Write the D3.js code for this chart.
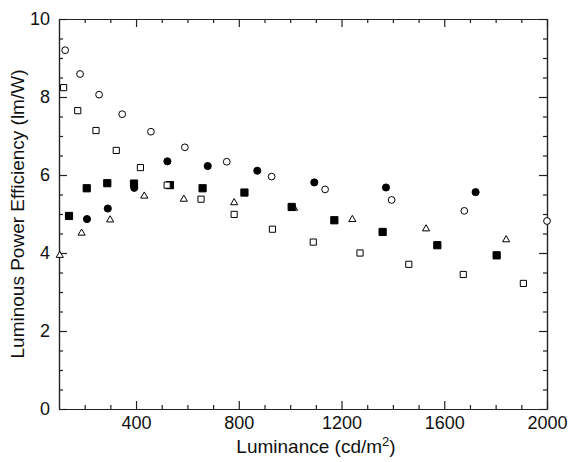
<!DOCTYPE html>
<html>
<head>
<meta charset="utf-8">
<script src="https://cdn.jsdelivr.net/npm/d3@7/dist/d3.min.js"></script>
<style>
  body { margin: 0; background: #fff; }
  text { font-family: "Liberation Sans", Arial, sans-serif; }
</style>
</head>
<body>
<div id="chart"></div>
<script>
// values: [luminance, efficiency]
const openCircles = [
  [124, 9.20], [182, 8.59], [256, 8.06], [346, 7.56], [458, 7.11], [590, 6.71],
  [753, 6.34], [928, 5.96], [1136, 5.63], [1395, 5.36], [1678, 5.08], [2000, 4.82]
]
const filledCircles = [
  [209, 4.87], [290, 5.14], [393, 5.67], [522, 6.35], [679, 6.23],
  [872, 6.11], [1094, 5.81], [1373, 5.68], [1722, 5.56]
]
const filledSquares = [
  [139, 4.95], [208, 5.66], [288, 5.79], [392, 5.78], [532, 5.74], [659, 5.66],
  [822, 5.55], [1006, 5.18], [1172, 4.84], [1360, 4.54], [1573, 4.20], [1804, 3.94]
]
const openSquares = [
  [118, 8.24], [173, 7.65], [244, 7.14], [323, 6.63], [417, 6.19], [521, 5.74],
  [653, 5.38], [782, 4.99], [931, 4.61], [1090, 4.28], [1272, 4.00], [1462, 3.71],
  [1674, 3.45], [1908, 3.22]
]
const openTriangles = [
  [103, 3.94], [188, 4.51], [299, 4.85], [432, 5.46], [586, 5.38],
  [782, 5.29], [1015, 5.15], [1242, 4.86], [1529, 4.62], [1841, 4.34]
]
const xMajor = [400, 800, 1200, 1600, 2000]
const yMajor = [0, 2, 4, 6, 8, 10]

const width = 572
const height = 462
const mLeft = 59, mRight = 547, mTop = 19, mBottom = 409

const svg = d3.select('#chart')
  .append('svg')
  .attr('width', width)
  .attr('height', height)

const x = d3.scaleLinear().domain([100, 2000]).range([mLeft, mRight])
const y = d3.scaleLinear().domain([0, 10]).range([mBottom, mTop])

const xMinor = d3.range(200, 2000, 100).filter(v => v % 400 !== 0)
const yMinor = d3.range(0.5, 10, 0.5).filter(v => v % 2 !== 0)
const fmt = d3.format('d')

function styleAxis(g) {
  g.select('.domain').attr('stroke', '#222').attr('stroke-width', 1.2)
  g.selectAll('.tick line').attr('stroke', '#222').attr('stroke-width', 1.2)
  g.selectAll('.tick text').attr('fill', '#111').style('font-size', '18px')
}

// bottom
svg.append('g').attr('transform', `translate(0,${mBottom})`)
  .call(d3.axisBottom(x).tickValues(xMinor).tickSize(-4).tickFormat('').tickSizeOuter(0))
  .call(styleAxis)
svg.append('g').attr('transform', `translate(0,${mBottom})`)
  .call(d3.axisBottom(x).tickValues(xMajor).tickSize(-8).tickPadding(7).tickFormat(fmt).tickSizeOuter(0))
  .call(styleAxis)
// top
svg.append('g').attr('transform', `translate(0,${mTop})`)
  .call(d3.axisTop(x).tickValues(xMinor).tickSize(-4).tickFormat('').tickSizeOuter(0))
  .call(styleAxis)
svg.append('g').attr('transform', `translate(0,${mTop})`)
  .call(d3.axisTop(x).tickValues(xMajor).tickSize(-8).tickFormat('').tickSizeOuter(0))
  .call(styleAxis)
// left
svg.append('g').attr('transform', `translate(${mLeft},0)`)
  .call(d3.axisLeft(y).tickValues(yMinor).tickSize(-4).tickFormat('').tickSizeOuter(0))
  .call(styleAxis)
svg.append('g').attr('transform', `translate(${mLeft},0)`)
  .call(d3.axisLeft(y).tickValues(yMajor).tickSize(-8).tickPadding(9).tickFormat(fmt).tickSizeOuter(0))
  .call(styleAxis)
// right
svg.append('g').attr('transform', `translate(${mRight},0)`)
  .call(d3.axisRight(y).tickValues(yMinor).tickSize(-4).tickFormat('').tickSizeOuter(0))
  .call(styleAxis)
svg.append('g').attr('transform', `translate(${mRight},0)`)
  .call(d3.axisRight(y).tickValues(yMajor).tickSize(-8).tickFormat('').tickSizeOuter(0))
  .call(styleAxis)

function drawSeries(data, type, size, fill) {
  svg.append('g')
    .selectAll('path')
    .data(data)
    .join('path')
    .attr('transform', d => `translate(${x(d[0])},${y(d[1])})`)
    .attr('d', d3.symbol().type(type).size(size))
    .attr('fill', fill)
    .attr('stroke', '#000')
    .attr('stroke-width', 1)
}

drawSeries(openTriangles, d3.symbolTriangle, 22, '#fff')
drawSeries(filledCircles, d3.symbolCircle, 40, '#000')
drawSeries(filledSquares, d3.symbolSquare, 52, '#000')
drawSeries(openSquares, d3.symbolSquare, 38, '#fff')
drawSeries(openCircles, d3.symbolCircle, 36, '#fff')

// axis titles
const xTitle = svg.append('text')
  .attr('x', 316)
  .attr('y', 453)
  .attr('text-anchor', 'middle')
  .style('font-size', '19px')
  .attr('fill', '#111')
xTitle.append('tspan').text('Luminance (cd/m')
xTitle.append('tspan').attr('dy', -7).style('font-size', '13px').text('2')
xTitle.append('tspan').attr('dy', 7).text(')')

svg.append('text')
  .attr('transform', `translate(24,${(mTop + mBottom) / 2}) rotate(-90)`)
  .attr('text-anchor', 'middle')
  .style('font-size', '19px')
  .attr('fill', '#111')
  .text('Luminous Power Efficiency (lm/W)')
</script>
</body>
</html>
